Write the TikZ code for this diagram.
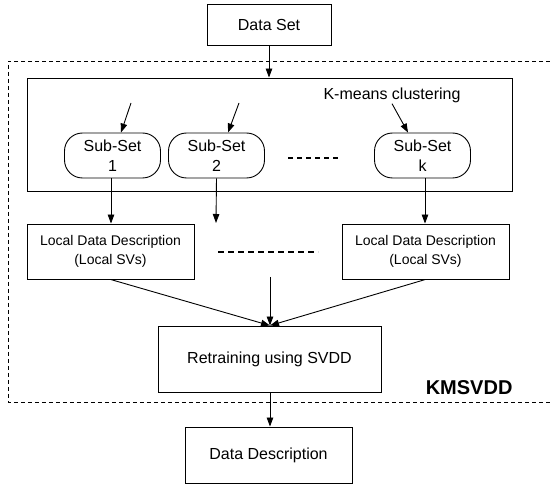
\documentclass[tikz,border=0pt]{standalone}
\usepackage{fontspec}
\setmainfont{Liberation Sans}
\usetikzlibrary{arrows.meta,calc}
\begin{document}
\begin{tikzpicture}[x=1pt,y=-1pt,
  box/.style={draw,line width=0.9pt,inner sep=0pt,align=center,font=\fontsize{16}{20}\selectfont},
  localbox/.style={box,minimum width=167pt,minimum height=55pt,font=\fontsize{14}{19}\selectfont},
  subbox/.style={box,rounded corners=18pt,minimum width=96pt,minimum height=45pt},
  arr/.style={line width=0.9pt,-{Triangle[length=9pt,width=6.5pt]}},
  dotline/.style={line width=2pt,dash pattern=on 5pt off 4pt}]
\useasboundingbox (0,0) rectangle (550,484);
% dashed frame
\draw[line width=0.9pt,dash pattern=on 4pt off 3pt] (550,61) -- (8,61) -- (8,402) -- (550,402);
\node[font=\fontsize{20}{24}\selectfont\bfseries,anchor=east] (kms) at (516,388) {KMSVDD};
% nodes
\node[box,minimum width=124pt,minimum height=41pt] (ds) at (269,24.5) {Data Set};
\node[draw,line width=0.9pt,minimum width=485pt,minimum height=113pt,inner sep=0pt] (big) at (269.5,134.5) {};
\node[font=\fontsize{16}{20}\selectfont,inner sep=1pt] (km) at (392,95) {K-means clustering};
\node[subbox] (s1) at (112.5,155.5) {Sub-Set\\1};
\node[subbox] (s2) at (216.5,155.5) {Sub-Set\\2};
\node[subbox] (sk) at (422.5,155.5) {Sub-Set\\k};
\node[localbox] (l1) at (110.5,251.5) {Local Data Description\\(Local SVs)};
\node[localbox] (lk) at (425.5,251.5) {Local Data Description\\(Local SVs)};
\node[box,minimum width=223pt,minimum height=66pt] (rt) at (269.5,359) {Retraining using SVDD};
\node[box,minimum width=167pt,minimum height=56pt] (dd) at (268.5,455) {Data Description};
% free ends
\coordinate (a1) at (131,103);
\coordinate (a2) at (239,103);
\coordinate (b2) at (216,223);
\coordinate (m1) at (288,158);
\coordinate (m2) at (340,158);
\coordinate (n1) at (218,252);
\coordinate (n2) at (318,252);
\coordinate (c0) at (270,277);
% dots
\draw[dotline] (m1) -- (m2);
\draw[dotline,dash pattern=on 6pt off 4pt] (n1) -- (n2);
% arrows
\draw[arr] (ds.south -| 269,0) -- (big.north -| 269,0);
\draw[arr] (a1) -- ($(s1.north)+(8.5,0)$);
\draw[arr] (a2) -- ($(s2.north)+(11.5,0)$);
\draw[arr] (km.south) -- ($(sk.north)+(-14.5,0)$);
\draw[arr] (s1.south -| 111,0) -- (l1.north -| 111,0);
\draw[arr] (s2.south) -- (b2);
\draw[arr] (sk.south -| 425,0) -- (lk.north -| 425,0);
\draw[arr] (l1.south) -- (rt.north -| 270,0);
\draw[arr] (c0) -- (rt.north -| 270,0);
\draw[arr] (lk.south) -- (rt.north -| 270,0);
\draw[arr] (rt.south -| 270,0) -- (dd.north -| 270,0);
\end{tikzpicture}
\end{document}
